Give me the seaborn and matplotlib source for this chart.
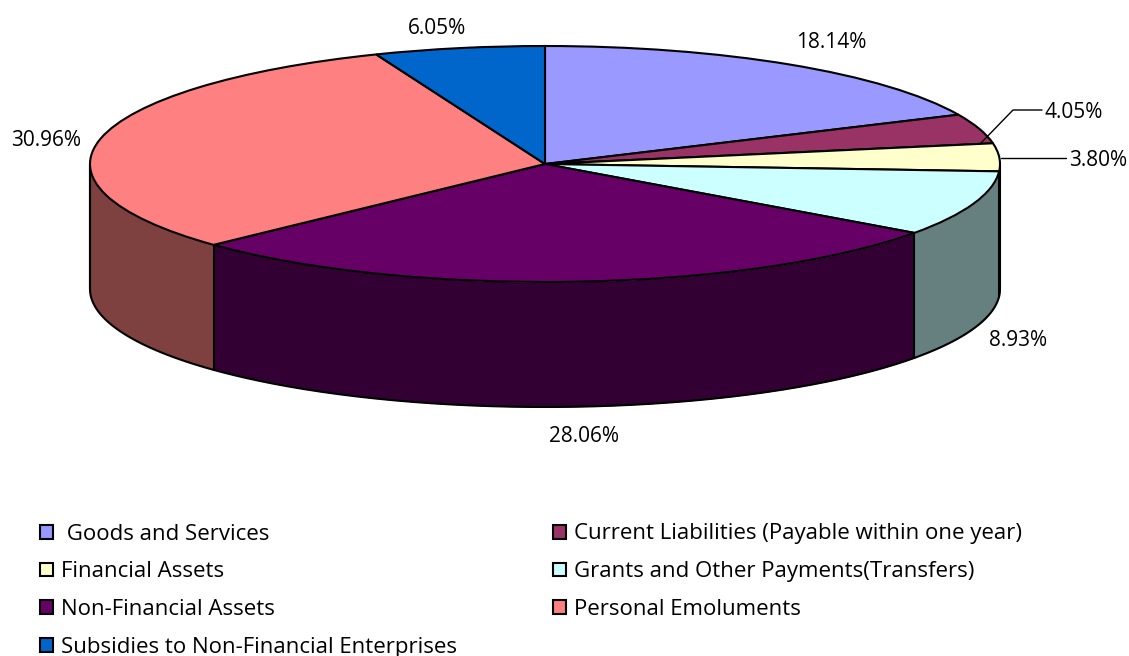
import numpy as np
import matplotlib
matplotlib.use("Agg")
import matplotlib.pyplot as plt
import seaborn as sns
from matplotlib.patches import Rectangle

categories = [" Goods and Services", "Current Liabilities (Payable within one year)",
              "Financial Assets", "Grants and Other Payments(Transfers)",
              "Non-Financial Assets", "Personal Emoluments",
              "Subsidies to Non-Financial Enterprises"]
values = [18.14, 4.05, 3.80, 8.93, 28.06, 30.96, 6.05]
top_colors = ["#9999FF", "#993366", "#FFFFCC", "#CCFFFF", "#660066", "#FF8080", "#0066CC"]
side_colors = ["#4C4C7F", "#4C1933", "#7F7F66", "#667F7F", "#330033", "#7F4040", "#003366"]

sns.set_theme(style="white")
plt.rcParams["font.family"] = ["Open Sans", "DejaVu Sans"]

W, H = 1129, 656
CX, CY, RX, RY, DEPTH = 545, 164, 455, 118, 125
fig = plt.figure(figsize=(W / 100, H / 100), dpi=100, facecolor="white")
ax = fig.add_axes([0, 0, 1, 1])

d = DEPTH / RY
lw = 1.5
edges = np.cumsum([0] + values) / 100 * 2 * np.pi
for a0, a1, c in zip(edges[:-1], edges[1:], side_colors):
    t = np.linspace(a0, a1, 200)
    x, y = np.sin(t), np.cos(t)
    vis = y <= 0.0001
    if not vis.any():
        continue
    ax.fill_between(x[vis], y[vis], y[vis] - d, color=c, zorder=1, lw=0)
    xs = x[vis]; ys = y[vis]
    ax.plot(xs, ys - d, color="black", lw=lw, zorder=2)
    ax.plot([xs[-1], xs[-1]], [ys[-1], ys[-1] - d], color="black", lw=lw, zorder=2)
ax.plot([1, 1], [0, -d], color="black", lw=lw, zorder=2)
ax.plot([-1, -1], [0, -d], color="black", lw=lw, zorder=2)

wedges, _ = ax.pie(values, colors=top_colors, startangle=90, counterclock=False, radius=1,
                   wedgeprops=dict(edgecolor="black", linewidth=lw))
for w in wedges:
    w.set_zorder(3)

ax.set_aspect("auto")
ax.set_xlim(-CX / RX, (W - CX) / RX)
ax.set_ylim((CY - H) / RY, CY / RY)
ax.set_frame_on(False)

def px(xp, yp):
    return (xp - CX) / RX, (CY - yp) / RY

label_pos = [(831, 43), (1074, 113), (1098, 161), (1018, 341), (584, 437), (46, 140), (437, 28)]
for v, (xp, yp) in zip(values, label_pos):
    ax.text(*px(xp, yp), f"{v:.2f}%", ha="center", va="center", fontsize=15, color="black", zorder=5)

for pts in ([(981, 143), (1013, 110), (1042, 110)], [(1001, 158), (1066, 158)]):
    xy = np.array([px(*p) for p in pts])
    ax.plot(xy[:, 0], xy[:, 1], color="black", lw=1, zorder=4)

def add_legend(idx, x_px):
    handles = [Rectangle((0, 0), 1, 1, facecolor=top_colors[i], edgecolor="black", lw=1.5) for i in idx]
    fig.legend(handles, [categories[i] for i in idx], frameon=False,
               loc="upper left", bbox_to_anchor=(x_px / W, 1 - 523.5 / H),
               fontsize=16, labelcolor="black", handlelength=0.58, handleheight=0.58, handletextpad=0.36,
               labelspacing=0.755, borderpad=0, borderaxespad=0)

add_legend([0, 2, 4, 6], 40)
add_legend([1, 3, 5], 553)
fig.savefig("out.png", dpi=100)
